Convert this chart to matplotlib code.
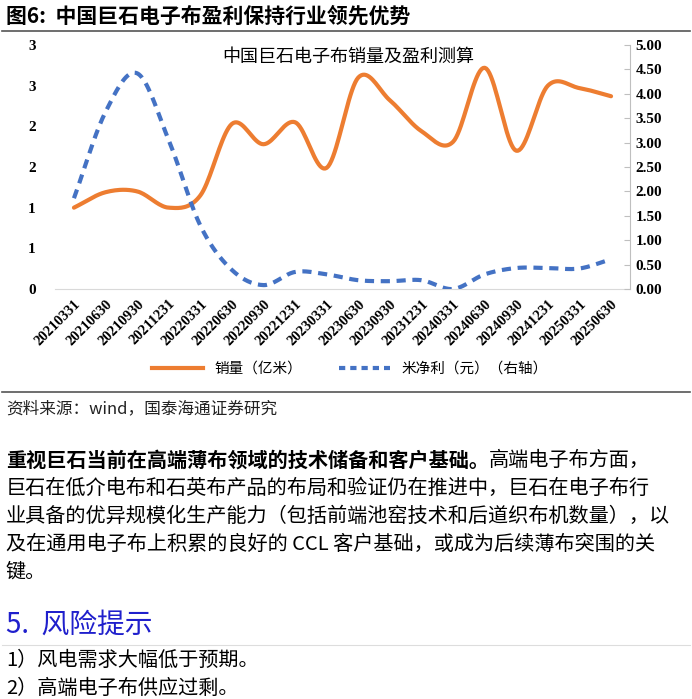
import numpy as np
import matplotlib
matplotlib.use("Agg")
import matplotlib.pyplot as plt
from matplotlib.lines import Line2D

plt.rcParams['font.family'] = ['Noto Sans CJK SC', 'DejaVu Sans']

dates = ["20210331","20210630","20210930","20211231","20220331","20220630","20220930",
         "20221231","20230331","20230630","20230930","20231231","20240331","20240630",
         "20240930","20241231","20250331","20250630"]
sales = [1.00,1.19,1.20,1.00,1.15,2.03,1.78,2.05,1.49,2.60,2.32,1.94,1.81,2.72,1.70,2.50,2.47,2.37]
profit = [1.86,3.63,4.42,3.05,1.30,0.39,0.08,0.35,0.30,0.18,0.16,0.18,0.00,0.30,0.43,0.43,0.42,0.61]
left_ticks = [0,0.5,1,1.5,2,2.5,3]
left_labels = ["0","1","1","2","2","3","3"]
right_ticks = [0,0.5,1,1.5,2,2.5,3,3.5,4,4.5,5]

def smooth(y, n=20):
    y = np.asarray(y, float)
    p = np.concatenate([[2*y[0]-y[1]], y, [2*y[-1]-y[-2]]])
    xs, ys = [], []
    for i in range(len(y)-1):
        p0,p1,p2,p3 = p[i],p[i+1],p[i+2],p[i+3]
        t = np.linspace(0,1,n,endpoint=False)
        yy = 0.5*((2*p1)+(-p0+p2)*t+(2*p0-5*p1+4*p2-p3)*t**2+(-p0+3*p1-3*p2+p3)*t**3)
        xs.append(i+t); ys.append(yy)
    xs.append([len(y)-1]); ys.append([y[-1]])
    return np.concatenate(xs), np.concatenate(ys)

fig = plt.figure(figsize=(6.92,6.99), dpi=100)
W,H = 692,699
def fx(px): return px/W
def fy(py): return 1-py/H

fig.text(fx(6), fy(16), "图6:  中国巨石电子布盈利保持行业领先优势", fontsize=15, fontweight='bold', va='center')
fig.add_artist(Line2D([fx(2),fx(690)],[fy(31),fy(31)], color='#555555', lw=1.2))

ax = fig.add_axes([fx(55), fy(289), fx(630)-fx(55), fy(45)-fy(289)])
x = np.arange(len(dates))
sx, sy = smooth(sales)
ax.plot(sx, sy, color='#ED7D31', lw=3, solid_capstyle='round')
ax.set_ylim(0,3)
ax.set_xlim(-0.6, len(dates)-0.4)
ax.set_yticks(left_ticks)
ax.set_yticklabels(left_labels, fontfamily='Liberation Serif', fontweight='bold', fontsize=11)
ax.set_xticks(x)
ax.set_xticklabels(dates, rotation=45, ha='right', rotation_mode='anchor',
                   fontfamily='Liberation Serif', fontweight='bold', fontsize=10.5)
for s in ['top','right','left']:
    ax.spines[s].set_visible(False)
ax.spines['bottom'].set_color('#d9d9d9')
ax.tick_params(axis='both', length=0, pad=6)
ax.tick_params(axis='y', pad=14)

ax2 = ax.twinx()
px, py = smooth(profit)
ax2.plot(px, py, color='#4472C4', lw=3, ls=(0,(2.2,1.6)))
ax2.set_ylim(0,5)
ax2.set_yticks(right_ticks)
ax2.set_yticklabels([f"{v:.2f}" for v in right_ticks], fontfamily='Liberation Serif', fontweight='bold', fontsize=11)
for s in ['top','left','bottom']:
    ax2.spines[s].set_visible(False)
ax2.spines['right'].set_color('#bfbfbf')
ax2.tick_params(axis='y', length=4, color='#bfbfbf', direction='in', pad=4)

fig.text(fx(348), fy(57), "中国巨石电子布销量及盈利测算", fontsize=13, ha='center', va='center')

ax.legend(handles=[Line2D([],[],color='#ED7D31',lw=3),
                   Line2D([],[],color='#4472C4',lw=3,ls=(0,(1.5,1.2)))],
          labels=["销量（亿米）","米净利（元）（右轴）"], loc='center',
          bbox_to_anchor=(fx(350),fy(369)), bbox_transform=fig.transFigure,
          ncol=2, frameon=False, fontsize=10.5, handlelength=3.5, columnspacing=2.5)

fig.add_artist(Line2D([fx(2),fx(690)],[fy(392),fy(392)], color='#555555', lw=1.2))
fig.text(fx(6), fy(409), "资料来源：wind，国泰海通证券研究", fontsize=12, va='center', color='#222222')

FS = 14.5
ys = [460, 488, 516, 544, 572]
t0 = fig.text(fx(6), fy(ys[0]), "重视巨石当前在高端薄布领域的技术储备和客户基础。", fontsize=FS, fontweight='bold', va='center')
fig.canvas.draw()
bb = t0.get_window_extent()
fig.text(bb.x1/W, fy(ys[0]), "高端电子布方面，", fontsize=FS, va='center')
rest = ["巨石在低介电布和石英布产品的布局和验证仍在推进中，巨石在电子布行",
        "业具备的优异规模化生产能力（包括前端池窑技术和后道织布机数量），以",
        "及在通用电子布上积累的良好的 CCL 客户基础，或成为后续薄布突围的关",
        "键。"]
for yy, s in zip(ys[1:], rest):
    fig.text(fx(6), fy(yy), s, fontsize=FS, va='center')

fig.text(fx(6), fy(625), "5.  风险提示", fontsize=20, color='#1F1FCC', va='center')
fig.add_artist(Line2D([fx(2),fx(690)],[fy(645),fy(645)], color='#dddddd', lw=0.8))
fig.text(fx(6), fy(660), "1）风电需求大幅低于预期。", fontsize=FS, va='center')
fig.text(fx(6), fy(688), "2）高端电子布供应过剩。", fontsize=FS, va='center')

fig.savefig("out.png", dpi=100)
